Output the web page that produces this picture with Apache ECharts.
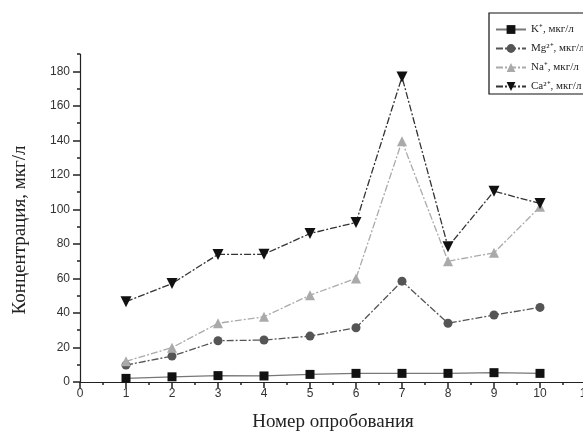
<!DOCTYPE html>
<html>
<head>
<meta charset="utf-8">
<script src="https://cdn.jsdelivr.net/npm/echarts@6/dist/echarts.min.js"></script>
<style>
  html, body { margin: 0; padding: 0; background: #fff; }
  #chart { width: 583px; height: 435px; }
</style>
</head>
<body>
<div id="chart"></div>
<script>
// Sample numbers (x axis) and ion concentrations, µg/l
const samples = [1, 2, 3, 4, 5, 6, 7, 8, 9, 10];
const potassium = [2.1, 3.0, 3.7, 3.5, 4.4, 5.0, 5.0, 5.0, 5.4, 5.0];
const magnesium = [9.8, 15.0, 23.9, 24.3, 26.6, 31.4, 58.4, 34.0, 38.8, 43.2];
const sodium = [12.0, 19.9, 34.0, 37.8, 50.3, 60.0, 139.5, 70.0, 74.8, 101.5];
const calcium = [46.5, 57.0, 73.9, 74.0, 86.0, 92.4, 176.7, 78.3, 110.5, 103.4];

const seriesNames = ['K\u207A, мкг/л', 'Mg\u00B2\u207A, мкг/л', 'Na\u207A, мкг/л', 'Ca\u00B2\u207A, мкг/л'];
const yMajorTicks = [0, 20, 40, 60, 80, 100, 120, 140, 160, 180];

const pairs = vals => samples.map((s, i) => [s, vals[i]]);

const chart = echarts.init(document.getElementById('chart'));

const axisColor = '#222';
const serif = 'Liberation Serif, Times New Roman, serif';
const tickFont = { fontFamily: 'Liberation Sans, Arial, sans-serif', fontSize: 12, color: '#333' };

chart.setOption({
  animation: false,
  backgroundColor: '#fff',
  grid: { left: 80, right: -3, top: 54, bottom: 53, outerBoundsMode: 'none', containLabel: false },
  legend: {
    orient: 'vertical',
    left: 489,
    top: 13,
    padding: [11, 40, 2, 6],
    itemGap: 8,
    itemWidth: 30,
    itemHeight: 11,
    borderColor: '#111',
    borderWidth: 1.2,
    backgroundColor: '#fff',
    textStyle: { fontFamily: serif, fontSize: 11, color: '#222' },
    data: seriesNames
  },
  xAxis: {
    type: 'value',
    min: 0,
    max: 11,
    interval: 1,
    name: 'Номер опробования',
    nameLocation: 'middle',
    nameGap: 31,
    nameTextStyle: { fontFamily: serif, fontSize: 19, color: '#222' },
    axisLine: { show: true, onZero: false, lineStyle: { color: axisColor, width: 1.2 } },
    axisTick: { show: true, inside: false, length: 6, lineStyle: { color: axisColor, width: 1.5 } },
    minorTick: { show: true, splitNumber: 2, length: 3, lineStyle: { color: axisColor, width: 1.5 } },
    axisLabel: Object.assign({ margin: 6 }, tickFont),
    splitLine: { show: false }
  },
  yAxis: [
    {
      // minor ticks every 10
      type: 'value',
      min: 0,
      max: 190,
      interval: 10,
      position: 'left',
      axisLine: { show: true, lineStyle: { color: axisColor, width: 1.2 } },
      axisTick: { show: true, inside: false, length: 3, lineStyle: { color: axisColor, width: 1.5 } },
      axisLabel: { show: false },
      splitLine: { show: false }
    },
    {
      // major ticks and labels every 20
      type: 'value',
      min: 0,
      max: 190,
      interval: 10,
      position: 'left',
      name: 'Концентрация, мкг/л',
      nameLocation: 'middle',
      nameGap: 50,
      nameRotate: 90,
      nameTextStyle: { fontFamily: serif, fontSize: 19, color: '#222', padding: [0, 24, 0, 0] },
      axisLine: { show: false },
      axisTick: { show: true, inside: false, length: 7, customValues: yMajorTicks, lineStyle: { color: axisColor, width: 1.5 } },
      axisLabel: Object.assign({ margin: 10, customValues: yMajorTicks }, tickFont),
      splitLine: { show: false }
    }
  ],
  series: [
    {
      name: seriesNames[0], type: 'line', data: pairs(potassium),
      symbol: 'rect', symbolSize: 9,
      itemStyle: { color: '#111' },
      lineStyle: { color: '#777', width: 1.3, type: 'solid' }
    },
    {
      name: seriesNames[1], type: 'line', data: pairs(magnesium),
      symbol: 'circle', symbolSize: 9,
      itemStyle: { color: '#555' },
      lineStyle: { color: '#555', width: 1.3, type: [7, 2, 2, 2] }
    },
    {
      name: seriesNames[2], type: 'line', data: pairs(sodium),
      symbol: 'triangle', symbolSize: 10,
      itemStyle: { color: '#aaa' },
      lineStyle: { color: '#aaa', width: 1.3, type: [7, 2, 2, 2] }
    },
    {
      name: seriesNames[3], type: 'line', data: pairs(calcium),
      symbol: 'triangle', symbolRotate: 180, symbolSize: 11,
      itemStyle: { color: '#111' },
      lineStyle: { color: '#333', width: 1.3, type: [7, 2, 2, 2] }
    }
  ]
});
</script>
</body>
</html>
